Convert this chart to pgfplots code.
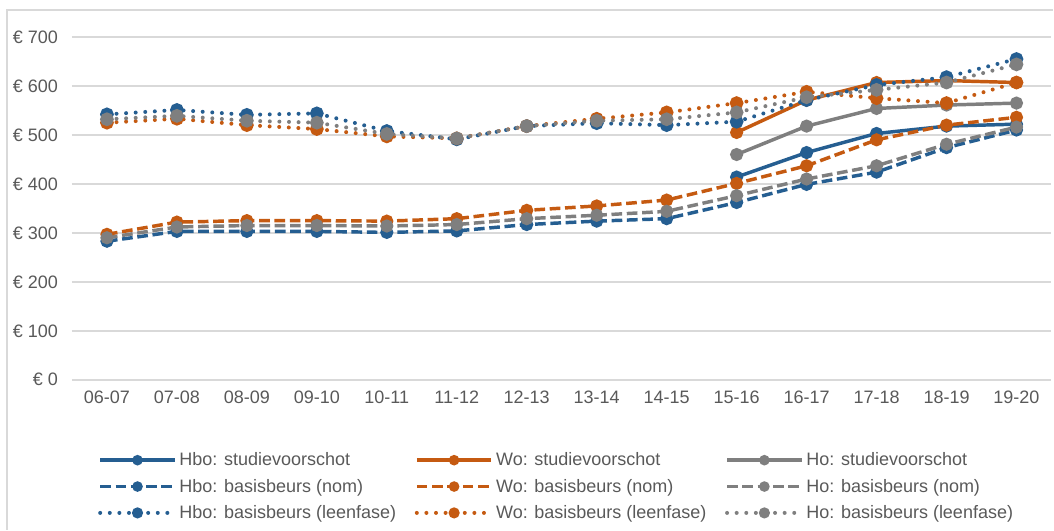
\documentclass[border=0pt]{standalone}
\usepackage{fontspec}
\setmainfont{Liberation Sans}
\usepackage{pgfplots}
\pgfplotsset{compat=1.18}

\definecolor{cblue}{HTML}{255E91}
\definecolor{corange}{HTML}{C55A11}
\definecolor{cgray}{HTML}{7F7F7F}
\definecolor{cgrid}{HTML}{D9D9D9}
\definecolor{ctext}{HTML}{595959}

\pgfplotsset{
  stud/.style={line width=2.6pt, mark=*, mark size=3.6pt, mark options={solid}},
  nom/.style={line width=2.6pt, dash pattern=on 8pt off 3.5pt, mark=*, mark size=3.6pt, mark options={solid}},
  leen/.style={line width=3pt, line cap=round, dash pattern=on 0pt off 7.2pt, mark=*, mark size=3.6pt, mark options={solid}},
}

\begin{document}
\begin{tikzpicture}
% chart frame (cropped) and page size
\path (0pt,0pt) rectangle (790.5pt,397.5pt);
\draw[cgrid, line width=0.8pt] (5.25pt,0pt) -- (5.25pt,390pt) -- (790.5pt,390pt);

\begin{axis}[
  scale only axis,
  width=735pt, height=257.25pt,
  at={(54pt,112.5pt)}, anchor=south west,
  xmin=-0.5, xmax=13.5,
  ymin=0, ymax=700,
  axis line style={draw=none},
  major tick length=0pt,
  xtick={0,...,13},
  xticklabels={06-07,07-08,08-09,09-10,10-11,11-12,12-13,13-14,14-15,15-16,16-17,17-18,18-19,19-20},
  ytick={0,100,...,700},
  yticklabels={€ 0,€ 100,€ 200,€ 300,€ 400,€ 500,€ 600,€ 700},
  ymajorgrids,
  grid style={cgrid, line width=1.1pt},
  ticklabel style={font=\fontsize{13.5}{15}\selectfont, text=ctext},
  yticklabel style={xshift=-7pt},
  xticklabel style={yshift=-6pt, text height=1.6ex, text depth=0.3ex},
  /pgf/number format/assume math mode=true,
  clip=false,
  legend columns=3,
  legend cell align=left,
  legend image code/.code={\draw[mark repeat=2, mark phase=2, mark size=2.6pt, #1] plot coordinates {(0pt,0pt) (28pt,0pt) (56pt,0pt)};},
  legend style={
    at={(0.0265,-0.204)}, anchor=north west,
    draw=none, fill=none, inner sep=0pt,
    font=\fontsize{13.5}{15}\selectfont, text=ctext,
    row sep=4.5pt,
    /tikz/every even column/.append style={column sep=12pt},
  },
]

\addplot[stud, color=cblue] coordinates {(9,414) (10,464) (11,503) (12,518) (13,522)};
\addlegendentry{Hbo: studievoorschot}
\addplot[stud, color=corange] coordinates {(9,505) (10,571) (11,607) (12,611) (13,607)};
\addlegendentry{Wo: studievoorschot}
\addplot[stud, color=cgray] coordinates {(9,460) (10,518) (11,554) (12,561) (13,565)};
\addlegendentry{Ho: studievoorschot}

\addplot[nom, color=cblue] coordinates {
(0,283) (1,303) (2,303) (3,303) (4,301) (5,304) (6,317) (7,324) (8,329) (9,362) (10,399) (11,424) (12,474) (13,510)};
\addlegendentry{Hbo: basisbeurs (nom)}
\addplot[nom, color=corange] coordinates {
(0,297) (1,322) (2,325) (3,325) (4,324) (5,329) (6,346) (7,355) (8,367) (9,401) (10,437) (11,490) (12,520) (13,536)};
\addlegendentry{Wo: basisbeurs (nom)}
\addplot[nom, color=cgray] coordinates {
(0,290) (1,312) (2,315) (3,315) (4,314) (5,317) (6,329) (7,336) (8,344) (9,376) (10,410) (11,437) (12,481) (13,516)};
\addlegendentry{Ho: basisbeurs (nom)}

\addplot[leen, color=cblue] coordinates {
(0,542) (1,551) (2,541) (3,544) (4,508) (5,491) (6,518) (7,524) (8,520) (9,527) (10,571) (11,602) (12,618) (13,655)};
\addlegendentry{Hbo: basisbeurs (leenfase)}
\addplot[leen, color=corange] coordinates {
(0,525) (1,533) (2,520) (3,512) (4,497) (5,493) (6,518) (7,533) (8,546) (9,565) (10,588) (11,575) (12,565) (13,607)};
\addlegendentry{Wo: basisbeurs (leenfase)}
\addplot[leen, color=cgray] coordinates {
(0,532) (1,539) (2,529) (3,525) (4,502) (5,493) (6,518) (7,529) (8,532) (9,546) (10,577) (11,592) (12,607) (13,644)};
\addlegendentry{Ho: basisbeurs (leenfase)}

\end{axis}
\end{tikzpicture}
\end{document}
